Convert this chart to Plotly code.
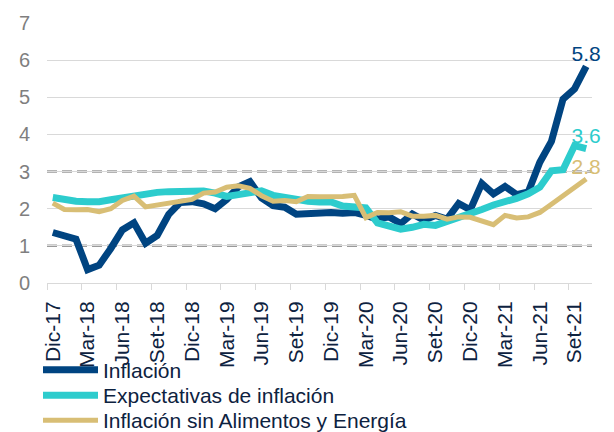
import plotly.graph_objects as go

# Monthly categories: Dic-17 .. Oct-21
months = ["Dic-17",
          "Ene-18", "Feb-18", "Mar-18", "Abr-18", "May-18", "Jun-18", "Jul-18", "Ago-18", "Set-18", "Oct-18", "Nov-18", "Dic-18",
          "Ene-19", "Feb-19", "Mar-19", "Abr-19", "May-19", "Jun-19", "Jul-19", "Ago-19", "Set-19", "Oct-19", "Nov-19", "Dic-19",
          "Ene-20", "Feb-20", "Mar-20", "Abr-20", "May-20", "Jun-20", "Jul-20", "Ago-20", "Set-20", "Oct-20", "Nov-20", "Dic-20",
          "Ene-21", "Feb-21", "Mar-21", "Abr-21", "May-21", "Jun-21", "Jul-21", "Ago-21", "Set-21", "Oct-21"]

inflacion = [1.36,
             1.25, 1.18, 0.36, 0.48, 0.93, 1.43, 1.62, 1.07, 1.28, 1.85, 2.17, 2.19,
             2.13, 2.00, 2.25, 2.59, 2.73, 2.29, 2.08, 2.04, 1.85, 1.87, 1.87, 1.90,
             1.88, 1.90, 1.82, 1.72, 1.78, 1.60, 1.86, 1.69, 1.82, 1.72, 2.14, 1.97,
             2.68, 2.40, 2.60, 2.38, 2.45, 3.25, 3.81, 4.95, 5.23, 5.83]

expectativas = [2.30,
                2.24, 2.20, 2.19, 2.19, 2.24, 2.30, 2.35, 2.40, 2.44, 2.46, 2.48, 2.50,
                2.48, 2.42, 2.33, 2.38, 2.45, 2.48, 2.36, 2.30, 2.25, 2.20, 2.18, 2.18,
                2.07, 2.05, 2.02, 1.62, 1.55, 1.45, 1.50, 1.58, 1.55, 1.65, 1.75, 1.85,
                1.98, 2.10, 2.18, 2.28, 2.40, 2.58, 3.02, 3.05, 3.70, 3.62]

sin_alim_energia = [2.15,
                    1.98, 1.97, 1.98, 1.92, 2.00, 2.22, 2.34, 2.05, 2.10, 2.15, 2.20, 2.25,
                    2.42, 2.45, 2.58, 2.62, 2.55, 2.35, 2.20, 2.22, 2.19, 2.33, 2.32, 2.32,
                    2.33, 2.36, 1.76, 1.90, 1.89, 1.92, 1.80, 1.80, 1.82, 1.72, 1.78, 1.77,
                    1.67, 1.57, 1.82, 1.75, 1.78, 1.90, 2.12, 2.35, 2.58, 2.80]

target_band = [1, 3]
y_ticks = [0, 1, 2, 3, 4, 5, 6, 7]

series = [
    ("Inflación", inflacion, "#004481", 7),
    ("Expectativas de inflación", expectativas, "#2DCCCD", 7),
    ("Inflación sin Alimentos y Energía", sin_alim_energia, "#D8BE75", 5),
]

FONT = "Liberation Sans, Arial, sans-serif"
TXT = "#0d2240"

x_idx = list(range(len(months)))
tick_idx = x_idx[::3]
tick_txt = [months[i] for i in tick_idx]

legend_names = ["legend", "legend2", "legend3"]
legend_y_px = [370, 395.5, 420.5]

fig = go.Figure()
for (name, vals, color, width), lg in zip(series, legend_names):
    labels = [""] * (len(vals) - 1) + [f"{vals[-1]:.1f}"]
    fig.add_trace(go.Scatter(
        x=x_idx, y=vals, name=name, mode="lines+text",
        line=dict(color=color, width=width),
        text=labels, textposition="top center",
        textfont=dict(color=color, size=21, family=FONT),
        cliponaxis=False, showlegend=True, legend=lg,
    ))

for v in target_band:
    fig.add_shape(type="line", xref="paper", x0=0, x1=1, yref="y", y0=v, y1=v,
                  line=dict(color="#9a9a9a", width=2.5, dash="10px,5px"), layer="between")

legend_common = dict(
    orientation="v", xref="container", yref="container",
    x=38 / 614, xanchor="left", yanchor="middle",
    font=dict(size=21, color=TXT, family=FONT), bgcolor="rgba(0,0,0,0)",
    itemwidth=55, borderwidth=0,
)
legends = {}
for lg, ypx in zip(legend_names, legend_y_px):
    legends[lg] = dict(legend_common, y=1 - ypx / 432)

fig.update_layout(
    width=614, height=432, autosize=False,
    margin=dict(l=47, r=22, t=23, b=149, autoexpand=False),
    paper_bgcolor="white", plot_bgcolor="white",
    font=dict(family=FONT, color=TXT),
    showlegend=True,
    **legends,
    xaxis=dict(
        range=[-0.5, len(months) - 0.5],
        tickmode="array", tickvals=tick_idx, ticktext=tick_txt,
        tickangle=-90, tickfont=dict(size=21, color=TXT),
        ticks="", showgrid=False, zeroline=False,
        showline=True, linecolor="#d9d9d9", linewidth=1,
        ticklabelstandoff=9, automargin=False,
        minor=dict(tick0=-0.5, dtick=3, ticks="outside", ticklen=6,
                   tickcolor="#d9d9d9", tickwidth=1, showgrid=False),
    ),
    yaxis=dict(
        range=[0, 7], tickmode="array", tickvals=y_ticks,
        tickfont=dict(size=20, color="#7f7f7f"),
        showgrid=True, gridcolor="#d9d9d9", gridwidth=1,
        zeroline=False, showline=False, ticks="",
        ticklabelstandoff=16, automargin=False,
    ),
)

fig.write_html(
    "out.html",
    config={"displayModeBar": False},
    post_script="document.body.style.margin='0';document.body.style.padding='0';"
                "document.documentElement.style.overflow='hidden';",
)
